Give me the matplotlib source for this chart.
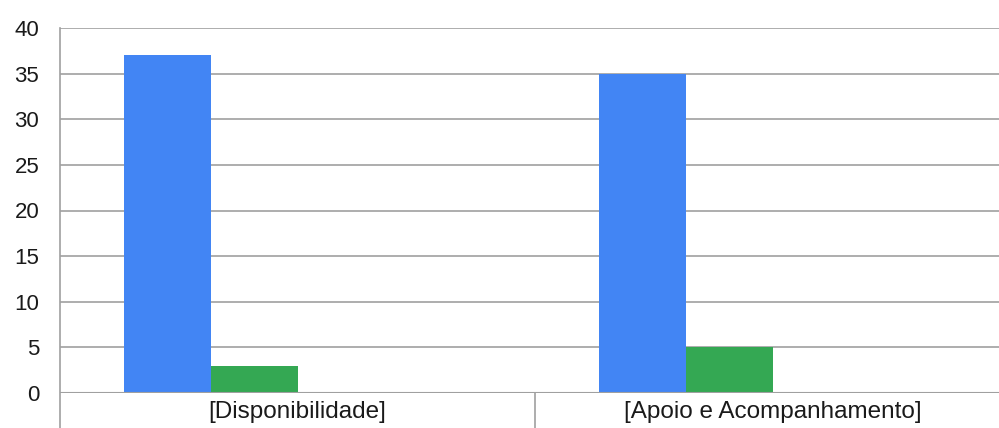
import matplotlib.pyplot as plt
from matplotlib.lines import Line2D
import numpy as np

# chart data
categories = ["[Disponibilidade]", "[Apoio e Acompanhamento]"]
blue_values = [37, 35]
green_values = [3, 5]
series = [blue_values, green_values, [0, 0], [0, 0]]
colors = ["#4285f4", "#34a853", "#ea4335", "#fbbc05"]
y_ticks = [0, 5, 10, 15, 20, 25, 30, 35, 40]


def main():
    plt.rcParams['font.family'] = ['Liberation Sans', 'DejaVu Sans']

    fig = plt.figure(figsize=(9.99, 4.28), dpi=100)
    W, H = 999, 428
    ax = fig.add_axes([60 / W, 35 / H, (W - 60) / W, 365 / H])

    x = np.arange(len(categories))
    bar_w = 87 / 475
    n = len(series)
    for k, vals in enumerate(series):
        offs = (k - (n - 1) / 2) * bar_w
        ax.bar(x + offs, vals, width=bar_w, color=colors[k], zorder=3, linewidth=0)

    ax.set_xlim(-0.5, 1.5 - 11 / 475)
    ax.set_ylim(0, 40)
    ax.set_yticks(y_ticks)
    ax.set_yticklabels([str(t) for t in y_ticks], fontsize=16, color="#1a1a1a")
    ax.tick_params(axis='y', length=0, pad=15)
    ax.set_xticks(x)
    ax.set_xticklabels(categories, fontsize=17.5, color="#1a1a1a")
    ax.tick_params(axis='x', length=0, pad=6)

    for t in y_ticks:
        ax.axhline(t, color="#a0a0a0", linewidth=1.2, zorder=1)
    ax.axhline(0, color="#a0a0a0", linewidth=1.5, zorder=4)

    for s in ax.spines.values():
        s.set_visible(False)

    # left axis and category separators reaching down to the figure bottom
    fig.add_artist(Line2D([60 / W, 60 / W], [0, (H - 28) / H], color="#a0a0a0", linewidth=1.2))
    sep = ax.transData.transform((0.5, 0))[0] / W
    fig.add_artist(Line2D([sep, sep], [0, 35 / H], color="#a0a0a0", linewidth=1.2))

    fig.savefig("out.png", dpi=100)


if __name__ == '__main__':
    main()
